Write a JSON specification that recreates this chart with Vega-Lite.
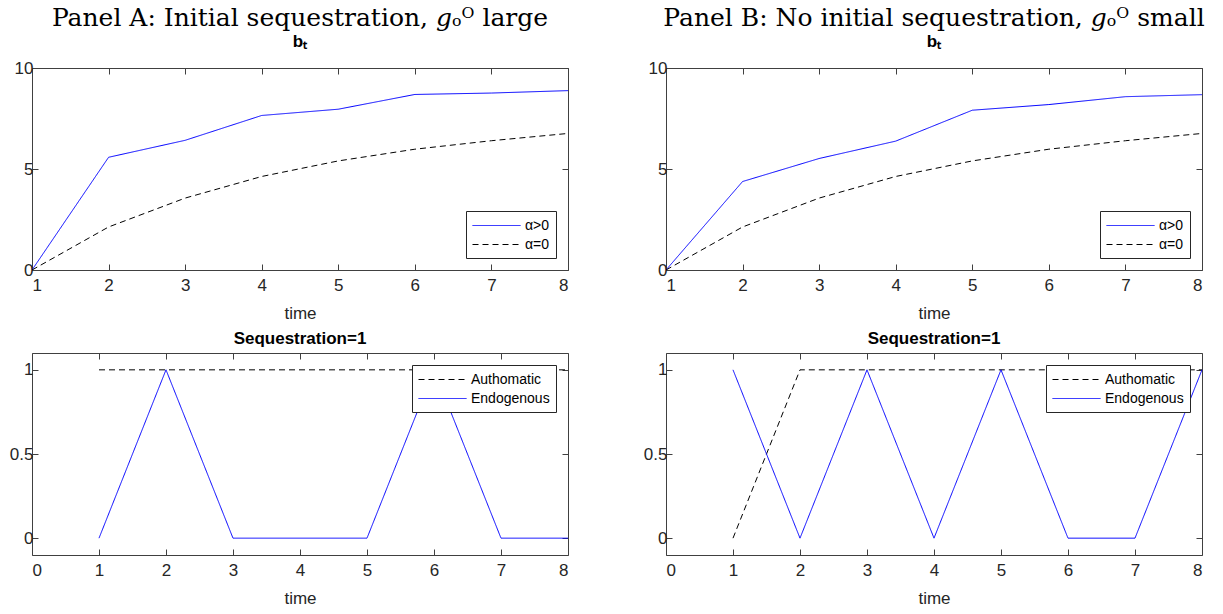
{
  "$schema": "https://vega.github.io/schema/vega-lite/v6.json",
  "background": "white",
  "padding": {"left": 8, "top": 5, "right": 5, "bottom": 3},
  "config": {
    "view": {"stroke": "#404040", "strokeWidth": 1},
    "axis": {
      "labelFont": "Liberation Sans, sans-serif",
      "labelFontSize": 17,
      "labelColor": "#262626",
      "titleFont": "Liberation Sans, sans-serif",
      "titleFontSize": 17,
      "titleFontWeight": "normal",
      "titleColor": "#262626",
      "titlePadding": 12,
      "domain": false,
      "grid": false,
      "tickColor": "#404040",
      "tickSize": -6,
      "labelPadding": 13
    },
    "legend": {
      "title": null,
      "fillColor": "white",
      "strokeColor": "#262626",
      "padding": 6,
      "labelFont": "Liberation Sans, sans-serif",
      "labelFontSize": 14,
      "labelColor": "#000000",
      "symbolType": "M-1,0H5",
      "symbolSize": 256,
      "symbolStrokeWidth": 1,
      "symbolFillColor": "transparent",
      "rowPadding": 3,
      "labelOffset": 36
    },
    "line": {"strokeWidth": 1}
  },
  "datasets": {
    "bA": [
      {"t": 1, "value": 0, "series": "α>0"},
      {"t": 2, "value": 5.58, "series": "α>0"},
      {"t": 3, "value": 6.42, "series": "α>0"},
      {"t": 4, "value": 7.65, "series": "α>0"},
      {"t": 5, "value": 7.96, "series": "α>0"},
      {"t": 6, "value": 8.69, "series": "α>0"},
      {"t": 7, "value": 8.76, "series": "α>0"},
      {"t": 8, "value": 8.88, "series": "α>0"},
      {"t": 1, "value": 0, "series": "α=0"},
      {"t": 2, "value": 2.13, "series": "α=0"},
      {"t": 3, "value": 3.56, "series": "α=0"},
      {"t": 4, "value": 4.63, "series": "α=0"},
      {"t": 5, "value": 5.4, "series": "α=0"},
      {"t": 6, "value": 5.98, "series": "α=0"},
      {"t": 7, "value": 6.4, "series": "α=0"},
      {"t": 8, "value": 6.76, "series": "α=0"}
    ],
    "bB": [
      {"t": 1, "value": 0, "series": "α>0"},
      {"t": 2, "value": 4.38, "series": "α>0"},
      {"t": 3, "value": 5.52, "series": "α>0"},
      {"t": 4, "value": 6.38, "series": "α>0"},
      {"t": 5, "value": 7.91, "series": "α>0"},
      {"t": 6, "value": 8.19, "series": "α>0"},
      {"t": 7, "value": 8.58, "series": "α>0"},
      {"t": 8, "value": 8.68, "series": "α>0"},
      {"t": 1, "value": 0, "series": "α=0"},
      {"t": 2, "value": 2.13, "series": "α=0"},
      {"t": 3, "value": 3.56, "series": "α=0"},
      {"t": 4, "value": 4.63, "series": "α=0"},
      {"t": 5, "value": 5.4, "series": "α=0"},
      {"t": 6, "value": 5.98, "series": "α=0"},
      {"t": 7, "value": 6.4, "series": "α=0"},
      {"t": 8, "value": 6.76, "series": "α=0"}
    ],
    "sA": [
      {"t": 1, "value": 1, "series": "Authomatic"},
      {"t": 2, "value": 1, "series": "Authomatic"},
      {"t": 3, "value": 1, "series": "Authomatic"},
      {"t": 4, "value": 1, "series": "Authomatic"},
      {"t": 5, "value": 1, "series": "Authomatic"},
      {"t": 6, "value": 1, "series": "Authomatic"},
      {"t": 7, "value": 1, "series": "Authomatic"},
      {"t": 8, "value": 1, "series": "Authomatic"},
      {"t": 1, "value": 0, "series": "Endogenous"},
      {"t": 2, "value": 1, "series": "Endogenous"},
      {"t": 3, "value": 0, "series": "Endogenous"},
      {"t": 4, "value": 0, "series": "Endogenous"},
      {"t": 5, "value": 0, "series": "Endogenous"},
      {"t": 6, "value": 1, "series": "Endogenous"},
      {"t": 7, "value": 0, "series": "Endogenous"},
      {"t": 8, "value": 0, "series": "Endogenous"}
    ],
    "sB": [
      {"t": 1, "value": 0, "series": "Authomatic"},
      {"t": 2, "value": 1, "series": "Authomatic"},
      {"t": 3, "value": 1, "series": "Authomatic"},
      {"t": 4, "value": 1, "series": "Authomatic"},
      {"t": 5, "value": 1, "series": "Authomatic"},
      {"t": 6, "value": 1, "series": "Authomatic"},
      {"t": 7, "value": 1, "series": "Authomatic"},
      {"t": 8, "value": 1, "series": "Authomatic"},
      {"t": 1, "value": 1, "series": "Endogenous"},
      {"t": 2, "value": 0, "series": "Endogenous"},
      {"t": 3, "value": 1, "series": "Endogenous"},
      {"t": 4, "value": 0, "series": "Endogenous"},
      {"t": 5, "value": 1, "series": "Endogenous"},
      {"t": 6, "value": 0, "series": "Endogenous"},
      {"t": 7, "value": 0, "series": "Endogenous"},
      {"t": 8, "value": 1, "series": "Endogenous"}
    ]
  },
  "bounds": "flush",
  "columns": 2,
  "spacing": {"row": 83, "column": 98},
  "resolve": {
    "scale": {"color": "independent", "strokeDash": "independent"},
    "legend": {"color": "independent", "strokeDash": "independent"}
  },
  "concat": [
    {
      "data": {"name": "bA"},
      "width": 536, "height": 202,
      "title": {"text": "Panel A: Initial sequestration, 𝑔ₒᴼ large", "font": "DejaVu Serif", "fontSize": 25, "fontWeight": "normal", "color": "#000000", "anchor": "middle", "offset": 9, "subtitle": "bₜ", "subtitleFont": "Liberation Sans, sans-serif", "subtitleFontSize": 17, "subtitleFontWeight": "bold", "subtitleColor": "#000000", "subtitlePadding": 3},
      "layer": [
        {
          "mark": {"type": "line", "strokeWidth": 1},
          "encoding": {
            "x": {"field": "t", "type": "quantitative", "scale": {"domain": [1, 8], "nice": false, "zero": false}, "axis": {"orient": "bottom", "values": [1, 2, 3, 4, 5, 6, 7, 8], "title": "time"}},
            "y": {"field": "value", "type": "quantitative", "scale": {"domain": [0, 10], "nice": false}, "axis": {"orient": "left", "values": [0, 5, 10], "title": null, "labelPadding": 5}},
            "color": {"field": "series", "type": "nominal", "scale": {"domain": ["α>0", "α=0"], "range": ["#0000ff", "#000000"]}, "legend": {"orient": "bottom-right", "offset": 12}},
            "strokeDash": {"field": "series", "type": "nominal", "scale": {"domain": ["α>0", "α=0"], "range": [[1, 0], [6, 4]]}, "legend": {"orient": "bottom-right", "offset": 12}}
          }
        },
        {
          "mark": {"type": "line", "opacity": 0},
          "encoding": {
            "x": {"field": "t", "type": "quantitative", "axis": {"orient": "top", "values": [1, 2, 3, 4, 5, 6, 7, 8], "labels": false, "title": null}},
            "y": {"field": "value", "type": "quantitative", "axis": {"orient": "right", "values": [0, 5, 10], "labels": false, "title": null}}
          }
        }
      ],
      "resolve": {"axis": {"x": "independent", "y": "independent"}}
    },
    {
      "data": {"name": "bB"},
      "width": 536, "height": 202,
      "title": {"text": "Panel B: No initial sequestration, 𝑔ₒᴼ small", "font": "DejaVu Serif", "fontSize": 25, "fontWeight": "normal", "color": "#000000", "anchor": "middle", "offset": 9, "subtitle": "bₜ", "subtitleFont": "Liberation Sans, sans-serif", "subtitleFontSize": 17, "subtitleFontWeight": "bold", "subtitleColor": "#000000", "subtitlePadding": 3},
      "layer": [
        {
          "mark": {"type": "line", "strokeWidth": 1},
          "encoding": {
            "x": {"field": "t", "type": "quantitative", "scale": {"domain": [1, 8], "nice": false, "zero": false}, "axis": {"orient": "bottom", "values": [1, 2, 3, 4, 5, 6, 7, 8], "title": "time"}},
            "y": {"field": "value", "type": "quantitative", "scale": {"domain": [0, 10], "nice": false}, "axis": {"orient": "left", "values": [0, 5, 10], "title": null, "labelPadding": 5}},
            "color": {"field": "series", "type": "nominal", "scale": {"domain": ["α>0", "α=0"], "range": ["#0000ff", "#000000"]}, "legend": {"orient": "bottom-right", "offset": 12}},
            "strokeDash": {"field": "series", "type": "nominal", "scale": {"domain": ["α>0", "α=0"], "range": [[1, 0], [6, 4]]}, "legend": {"orient": "bottom-right", "offset": 12}}
          }
        },
        {
          "mark": {"type": "line", "opacity": 0},
          "encoding": {
            "x": {"field": "t", "type": "quantitative", "axis": {"orient": "top", "values": [1, 2, 3, 4, 5, 6, 7, 8], "labels": false, "title": null}},
            "y": {"field": "value", "type": "quantitative", "axis": {"orient": "right", "values": [0, 5, 10], "labels": false, "title": null}}
          }
        }
      ],
      "resolve": {"axis": {"x": "independent", "y": "independent"}}
    },
    {
      "data": {"name": "sA"},
      "width": 536, "height": 202,
      "title": {"text": "Sequestration=1", "font": "Liberation Sans, sans-serif", "fontSize": 17, "fontWeight": "bold", "color": "#000000", "offset": 5},
      "layer": [
        {
          "mark": {"type": "line", "strokeWidth": 1},
          "encoding": {
            "x": {"field": "t", "type": "quantitative", "scale": {"domain": [0, 8], "nice": false, "zero": false}, "axis": {"orient": "bottom", "values": [0, 1, 2, 3, 4, 5, 6, 7, 8], "title": "time"}},
            "y": {"field": "value", "type": "quantitative", "scale": {"domain": [-0.1, 1.1], "nice": false, "zero": false}, "axis": {"orient": "left", "values": [0, 0.5, 1], "format": "~g", "title": null, "labelPadding": 5}},
            "color": {"field": "series", "type": "nominal", "scale": {"domain": ["Authomatic", "Endogenous"], "range": ["#000000", "#0000ff"]}, "legend": {"orient": "top-right", "offset": 12}},
            "strokeDash": {"field": "series", "type": "nominal", "scale": {"domain": ["Authomatic", "Endogenous"], "range": [[6, 4], [1, 0]]}, "legend": {"orient": "top-right", "offset": 12}}
          }
        },
        {
          "mark": {"type": "line", "opacity": 0},
          "encoding": {
            "x": {"field": "t", "type": "quantitative", "axis": {"orient": "top", "values": [0, 1, 2, 3, 4, 5, 6, 7, 8], "labels": false, "title": null}},
            "y": {"field": "value", "type": "quantitative", "axis": {"orient": "right", "values": [0, 0.5, 1], "labels": false, "title": null}}
          }
        }
      ],
      "resolve": {"axis": {"x": "independent", "y": "independent"}}
    },
    {
      "data": {"name": "sB"},
      "width": 536, "height": 202,
      "title": {"text": "Sequestration=1", "font": "Liberation Sans, sans-serif", "fontSize": 17, "fontWeight": "bold", "color": "#000000", "offset": 5},
      "layer": [
        {
          "mark": {"type": "line", "strokeWidth": 1},
          "encoding": {
            "x": {"field": "t", "type": "quantitative", "scale": {"domain": [0, 8], "nice": false, "zero": false}, "axis": {"orient": "bottom", "values": [0, 1, 2, 3, 4, 5, 6, 7, 8], "title": "time"}},
            "y": {"field": "value", "type": "quantitative", "scale": {"domain": [-0.1, 1.1], "nice": false, "zero": false}, "axis": {"orient": "left", "values": [0, 0.5, 1], "format": "~g", "title": null, "labelPadding": 5}},
            "color": {"field": "series", "type": "nominal", "scale": {"domain": ["Authomatic", "Endogenous"], "range": ["#000000", "#0000ff"]}, "legend": {"orient": "top-right", "offset": 12}},
            "strokeDash": {"field": "series", "type": "nominal", "scale": {"domain": ["Authomatic", "Endogenous"], "range": [[6, 4], [1, 0]]}, "legend": {"orient": "top-right", "offset": 12}}
          }
        },
        {
          "mark": {"type": "line", "opacity": 0},
          "encoding": {
            "x": {"field": "t", "type": "quantitative", "axis": {"orient": "top", "values": [0, 1, 2, 3, 4, 5, 6, 7, 8], "labels": false, "title": null}},
            "y": {"field": "value", "type": "quantitative", "axis": {"orient": "right", "values": [0, 0.5, 1], "labels": false, "title": null}}
          }
        }
      ],
      "resolve": {"axis": {"x": "independent", "y": "independent"}}
    }
  ]
}
